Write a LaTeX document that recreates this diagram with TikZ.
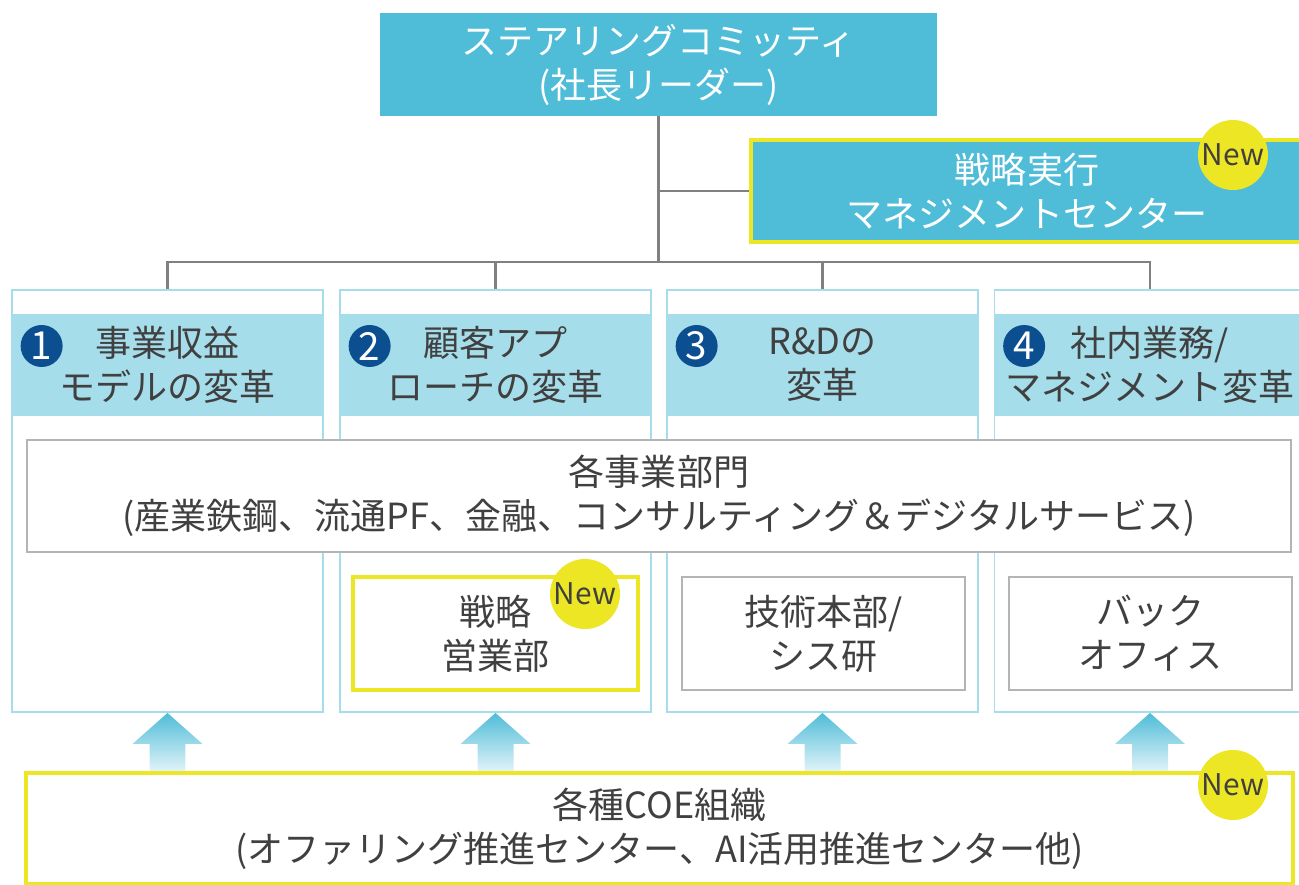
\documentclass[tikz,border=0pt]{standalone}
\usepackage{fontspec}
\setmainfont{Noto Sans CJK JP}
\usetikzlibrary{positioning}
\definecolor{steer}{HTML}{4FBCD8}
\definecolor{band}{HTML}{A6DDEA}
\definecolor{navy}{HTML}{0B4F91}
\definecolor{newy}{HTML}{EDE624}
\definecolor{boxgray}{HTML}{B4B4B4}
\definecolor{txt}{HTML}{404040}
\definecolor{wire}{HTML}{808080}
\begin{document}
\begin{tikzpicture}[x=0.02cm,y=-0.02cm,
  every node/.style={font=\fontsize{20.5}{25}\selectfont,inner sep=0pt,align=center,text=txt},
  boxsize/.style 2 args={minimum width=#1*0.02cm,minimum height=#2*0.02cm},
  bluebox/.style={fill=steer,text=white},
  colbox/.style={draw=band,line width=1.1pt,boxsize={311}{422}},
  bandbox/.style={fill=band,boxsize={311}{102}},
  graybox/.style={draw=boxgray,fill=white,line width=1.4pt},
  newbox/.style={draw=newy,line width=2.5pt},
  numdot/.style={circle,fill=navy,text=white,minimum size=42*0.02cm,font=\fontsize{22}{22}\selectfont},
  newdot/.style={circle,fill=newy,minimum size=70*0.02cm,font=\fontsize{17}{17}\selectfont},
  wires/.style={draw=wire,line width=1.4pt}]
\useasboundingbox (0,0) rectangle (1299,885);
% top of the chart
\node[bluebox,boxsize={557}{103}] (steer) at (658.5,64.5) {ステアリングコミッティ\\(社長リーダー)};
\node[bluebox,newbox,boxsize={552}{102}] (exec) at (1027,191) {戦略実行\\マネジメントセンター};
\node[newdot] (new1) at (1233,155) {New};
% four columns
\node[colbox] (col1) at (167.5,501) {};
\node[colbox] (col2) at (495.5,501) {};
\node[colbox] (col3) at (822.5,501) {};
\node[colbox] (col4) at (1150,501) {};
\node[bandbox] (band1) at (167.5,365) {事業収益\\モデルの変革};
\node[bandbox] (band2) at (495.5,365) {顧客アプ\\ローチの変革};
\node[bandbox] (band3) at (822.5,365) {R\&Dの\\変革};
\node[bandbox] (band4) at (1150,365) {社内業務/\\マネジメント変革};
\foreach \i in {1,2,3,4}
  \node[numdot] (num\i) at ([shift={(0.6cm,0.38cm)}]band\i.west) {\i};
% wires
\coordinate (bus) at (658.5,262);
\draw[wires] (steer.south) -- (bus);
\draw[wires] (exec.west) -- (exec.west -| steer.south);
\draw[wires] (col1.north) -- (col1.north |- bus) -- (col4.north |- bus) -- (col4.north);
\draw[wires] (col2.north) -- (col2.north |- bus);
\draw[wires] (col3.north) -- (col3.north |- bus);
% business units
\node[graybox,boxsize={1264}{112}] (units) at (659,496) {各事業部門\\(産業鉄鋼、流通PF、金融、コンサルティング＆デジタルサービス)};
\node[newbox,fill=white,boxsize={285}{113}] (sales) at (495.5,633.5) {戦略\\営業部};
\node[newdot] (new2) at (585,594) {New};
\node[graybox,boxsize={283}{113}] (tech) at (823.5,633.5) {技術本部/\\シス研};
\node[graybox,boxsize={283}{113}] (back) at (1150.5,633.5) {バック\\オフィス};
% COE
\node[newbox,boxsize={1267}{111}] (coe) at (659.5,828.5) {各種COE組織\\(オファリング推進センター、AI活用推進センター他)};
\node[newdot] (new3) at (1233,785) {New};
\foreach \c in {col1,col2,col3,col4}
  \shade[top color=steer,bottom color=band!35]
    (\c.south) -- ([shift={(0.7cm,-0.62cm)}]\c.south) -- ([shift={(0.36cm,-0.62cm)}]\c.south)
    -- ([xshift=0.36cm]\c.south |- coe.north) -- ([xshift=-0.36cm]\c.south |- coe.north)
    -- ([shift={(-0.36cm,-0.62cm)}]\c.south) -- ([shift={(-0.7cm,-0.62cm)}]\c.south) -- cycle;
\end{tikzpicture}
\end{document}
